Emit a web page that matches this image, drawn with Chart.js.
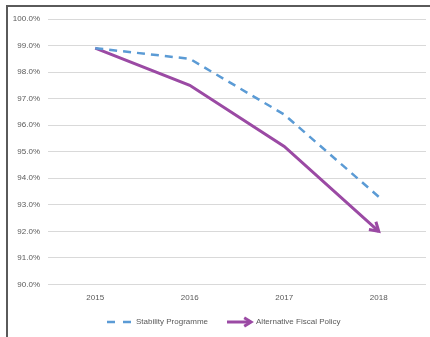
<!DOCTYPE html>
<html>
<head>
<meta charset="utf-8">
<script src="https://cdn.jsdelivr.net/npm/chart.js@4"></script>
<style>
  html, body { margin: 0; padding: 0; background: #fff; }
  #wrap { position: relative; width: 430px; height: 337px; overflow: hidden; }
  #frame { position: absolute; left: 6px; top: 5px; width: 440px; height: 350px;
           border-left: 2px solid #5a5a5a; border-top: 2px solid #5a5a5a; }
  canvas { position: absolute; left: 0; top: 0; }
</style>
</head>
<body>
<div id="wrap">
  <div id="frame"></div>
  <canvas id="chart" width="430" height="337"></canvas>
</div>
<script>
const years = ["2015", "2016", "2017", "2018"];
const stabilityProgramme = [98.9, 98.5, 96.4, 93.3];
const alternativeFiscal = [98.9, 97.5, 95.2, 92.0];
const yMin = 90, yMax = 100, yStep = 1;

const BLUE = "#5b9bd5";
const PURPLE = "#9b4aa4";
const TEXT = "#595959";
const FONT = "'Liberation Sans', Arial, sans-serif";
const FONT_SIZE = 8;

// draws the arrow head at the end of a line from (ax,ay) to (bx,by)
function drawArrowHead(ctx, ax, ay, bx, by, len) {
  const ang = Math.atan2(by - ay, bx - ax);
  const spread = 0.55;
  ctx.beginPath();
  ctx.moveTo(bx - len * Math.cos(ang - spread), by - len * Math.sin(ang - spread));
  ctx.lineTo(bx, by);
  ctx.lineTo(bx - len * Math.cos(ang + spread), by - len * Math.sin(ang + spread));
  ctx.stroke();
}

const arrowHead = {
  id: "arrowHead",
  afterDatasetsDraw(chart) {
    const pts = chart.getDatasetMeta(1).data;
    const a = pts[pts.length - 2], b = pts[pts.length - 1];
    const ctx = chart.ctx;
    ctx.save();
    ctx.strokeStyle = PURPLE;
    ctx.lineWidth = 3;
    drawArrowHead(ctx, a.x, a.y, b.x, b.y, 10);
    ctx.restore();
  }
};

// legend below the x axis, like the excel one
const bottomLegend = {
  id: "bottomLegend",
  afterDraw(chart) {
    const ctx = chart.ctx;
    const sets = chart.data.datasets;
    const y = 322;
    let x = 107;
    ctx.save();
    ctx.font = FONT_SIZE + "px " + FONT;
    ctx.textBaseline = "middle";
    ctx.fillStyle = TEXT;

    // dashed sample
    ctx.strokeStyle = BLUE;
    ctx.lineWidth = 2.5;
    ctx.setLineDash([8, 8]);
    ctx.beginPath(); ctx.moveTo(x, y); ctx.lineTo(x + 24, y); ctx.stroke();
    ctx.setLineDash([]);
    x += 29;
    ctx.fillText(sets[0].label, x, y);
    x += ctx.measureText(sets[0].label).width + 19;

    // arrow sample
    ctx.strokeStyle = PURPLE;
    ctx.lineWidth = 3;
    ctx.beginPath(); ctx.moveTo(x, y); ctx.lineTo(x + 23, y); ctx.stroke();
    drawArrowHead(ctx, x, y, x + 24, y, 8);
    x += 29;
    ctx.fillText(sets[1].label, x, y);
    ctx.restore();
  }
};

new Chart(document.getElementById("chart"), {
  type: "line",
  data: {
    labels: years,
    datasets: [
      {
        label: "Stability Programme",
        data: stabilityProgramme,
        borderColor: BLUE,
        borderWidth: 2.5,
        borderDash: [8, 6],
        pointRadius: 0,
        tension: 0
      },
      {
        label: "Alternative Fiscal Policy",
        data: alternativeFiscal,
        borderColor: PURPLE,
        borderWidth: 3,
        pointRadius: 0,
        tension: 0
      }
    ]
  },
  options: {
    responsive: false,
    animation: false,
    layout: { padding: { left: 0, right: 4, top: 19, bottom: 25 } },
    scales: {
      x: {
        offset: true,
        grid: { display: false, drawTicks: false },
        border: { display: false },
        ticks: { color: TEXT, font: { family: FONT, size: FONT_SIZE }, padding: 9 }
      },
      y: {
        min: yMin, max: yMax,
        grid: { color: "#d9d9d9", lineWidth: 1, drawTicks: false },
        border: { display: false },
        ticks: {
          stepSize: yStep,
          color: TEXT,
          font: { family: FONT, size: FONT_SIZE },
          padding: 8,
          callback: (v) => v.toFixed(1) + "%"
        },
        afterFit: (s) => { s.width = 48; }
      }
    },
    plugins: {
      tooltip: { enabled: false },
      legend: { display: false }
    }
  },
  plugins: [arrowHead, bottomLegend]
});
</script>
</body>
</html>
